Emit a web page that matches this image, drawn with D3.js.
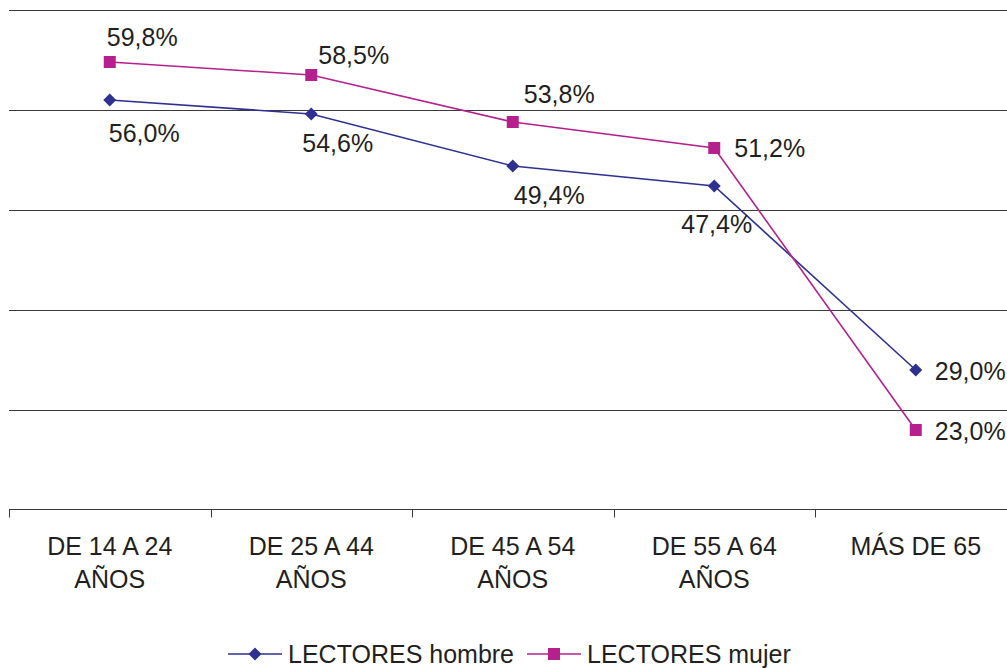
<!DOCTYPE html>
<html>
<head>
<meta charset="utf-8">
<script src="https://cdn.jsdelivr.net/npm/d3@7"></script>
<style>
  body { margin: 0; background: #fff; }
  svg { display: block; font-family: "Liberation Sans", Arial, sans-serif; }
</style>
</head>
<body>
<div id="chart"></div>
<script>
// categories (two-line labels)
var categories = ["DE 14 A 24 AÑOS", "DE 25 A 44 AÑOS", "DE 45 A 54 AÑOS", "DE 55 A 64 AÑOS", "MÁS DE 65"];
var categoryLines = [["DE 14 A 24", "AÑOS"], ["DE 25 A 44", "AÑOS"], ["DE 45 A 54", "AÑOS"], ["DE 55 A 64", "AÑOS"], ["MÁS DE 65"]];

// series values (%)
var hombre = [56.0, 54.6, 49.4, 47.4, 29.0];
var mujer = [59.8, 58.5, 53.8, 51.2, 23.0];
var seriesNames = ["LECTORES hombre", "LECTORES mujer"];

// y gridlines
var yTicks = [15, 25, 35, 45, 55, 65];

// label offsets from each point (placement only)
var hombreLabelOff = [[-1, 42], [-9, 38], [1, 38], [-33, 47], [19, 10]];
var mujerLabelOff = [[-3, -16], [7, -11], [11, -19], [20, 9], [19, 10]];

var w = 1007, h = 668;
var blue = "#2e3192", pink = "#b5208e";

var svg = d3.select("#chart").append("svg")
  .attr("width", w)
  .attr("height", h);

var x = d3.scaleBand().domain(categories).range([9, 1016.5]);
var y = d3.scaleLinear().domain([15, 65]).range([510, 10]);
var cx = function(i) { return x(categories[i]) + x.bandwidth() / 2; };

// gridlines
svg.append("g")
  .selectAll("line")
  .data(yTicks.slice(1))
  .enter().append("line")
  .attr("x1", 9)
  .attr("x2", w)
  .attr("y1", function(d) { return Math.round(y(d)) + 0.5; })
  .attr("y2", function(d) { return Math.round(y(d)) + 0.5; })
  .attr("stroke", "#3a3a3a")
  .attr("stroke-width", 1);

// x axis
var xAxis = svg.append("g")
  .attr("transform", "translate(0," + (y(15) - 0.5) + ")");
xAxis.append("line")
  .attr("x1", 9).attr("x2", w)
  .attr("stroke", "#3a3a3a");
xAxis.selectAll(".tick")
  .data(d3.range(categories.length + 1))
  .enter().append("line")
  .attr("x1", function(i) { return Math.round(9 + i * x.step()) + 0.5; })
  .attr("x2", function(i) { return Math.round(9 + i * x.step()) + 0.5; })
  .attr("y1", 0).attr("y2", 8)
  .attr("stroke", "#3a3a3a");

// category labels
var catText = svg.append("g")
  .selectAll("text")
  .data(categoryLines)
  .enter().append("text")
  .attr("text-anchor", "middle")
  .attr("font-size", 25)
  .attr("fill", "#231f20");
catText.selectAll("tspan")
  .data(function(d, i) { return d.map(function(t) { return {t: t, i: i}; }); })
  .enter().append("tspan")
  .attr("x", function(d) { return cx(d.i); })
  .attr("y", function(d, j) { return 555 + j * 33; })
  .text(function(d) { return d.t; });

var line = d3.line()
  .x(function(d, i) { return cx(i); })
  .y(function(d) { return y(d); });

function fmt(v) { return v.toFixed(1).replace(".", ",") + "%"; }

// diamond = square rotated 45 degrees
function drawSeries(vals, color, diamond, size, offs) {
  svg.append("path")
    .datum(vals)
    .attr("d", line)
    .attr("fill", "none")
    .attr("stroke", color)
    .attr("stroke-width", 1.6);
  svg.append("g")
    .selectAll("path")
    .data(vals)
    .enter().append("path")
    .attr("d", d3.symbol().type(d3.symbolSquare).size(size))
    .attr("transform", function(d, i) {
      var t = "translate(" + cx(i) + "," + y(d) + ")";
      return diamond ? t + " rotate(45)" : t;
    })
    .attr("fill", color);
  svg.append("g")
    .selectAll("text")
    .data(vals)
    .enter().append("text")
    .attr("x", function(d, i) { return cx(i) + offs[i][0]; })
    .attr("y", function(d, i) { return y(d) + offs[i][1]; })
    .attr("font-size", 25)
    .attr("fill", "#231f20")
    .text(fmt);
}

drawSeries(hombre, blue, true, 84, hombreLabelOff);
drawSeries(mujer, pink, false, 144, mujerLabelOff);

// legend
var legendX = [228, 527];
var legend = svg.append("g")
  .selectAll("g")
  .data(seriesNames)
  .enter().append("g")
  .attr("transform", function(d, i) { return "translate(" + legendX[i] + ",654)"; });
legend.append("line")
  .attr("x1", 0).attr("x2", 54)
  .attr("stroke", function(d, i) { return i ? pink : blue; })
  .attr("stroke-width", 1.6);
legend.append("path")
  .attr("d", function(d, i) { return d3.symbol().type(d3.symbolSquare).size(i ? 144 : 84)(); })
  .attr("transform", function(d, i) { return i ? "translate(27,0)" : "translate(27,0) rotate(45)"; })
  .attr("fill", function(d, i) { return i ? pink : blue; });
legend.append("text")
  .attr("x", 60)
  .attr("y", 9)
  .attr("font-size", 25)
  .attr("fill", "#231f20")
  .text(function(d) { return d; });
</script>
</body>
</html>
